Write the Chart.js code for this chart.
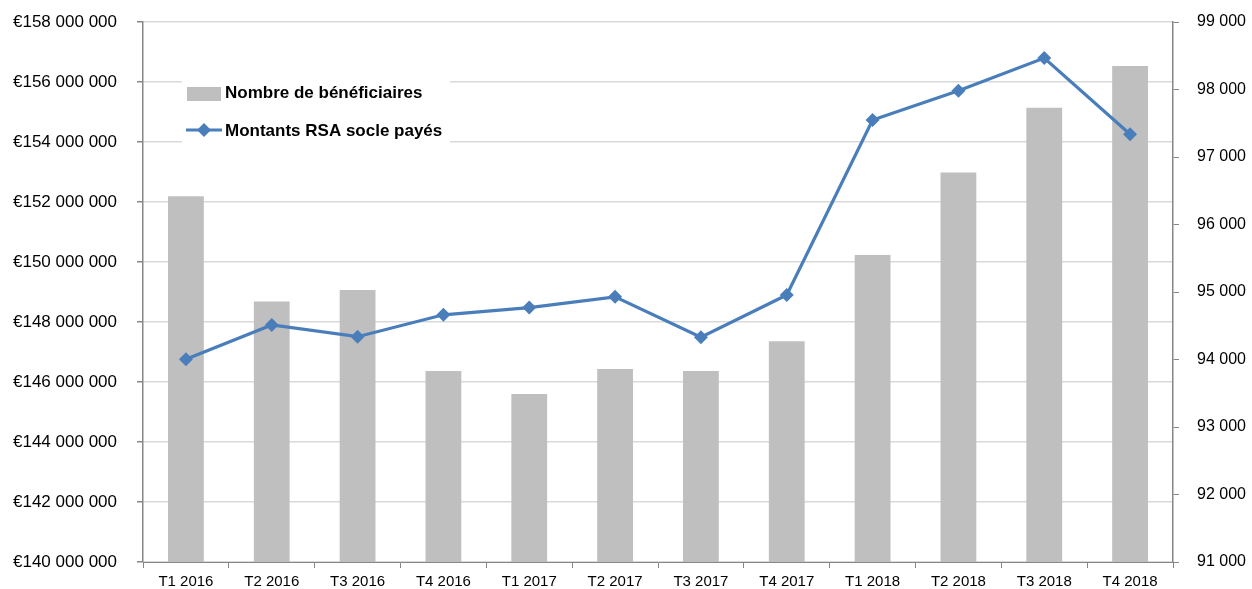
<!DOCTYPE html>
<html>
<head>
<meta charset="utf-8">
<script src="https://cdn.jsdelivr.net/npm/chart.js@4/dist/chart.umd.min.js"></script>
<style>
  body { margin: 0; background: #fff; }
  .content { width: 1252px; height: 589px; position: relative; }
</style>
</head>
<body>
<div class="content"><canvas id="chart"></canvas></div>
<script>
const labels = ['T1 2016', 'T2 2016', 'T3 2016', 'T4 2016', 'T1 2017', 'T2 2017',
  'T3 2017', 'T4 2017', 'T1 2018', 'T2 2018', 'T3 2018', 'T4 2018'];

// Nombre de bénéficiaires (axe de droite)
const beneficiaires = [96420, 94860, 95030, 93830, 93490, 93860, 93830, 94270, 95550, 96770, 97730, 98350];

// Montants RSA socle payés (axe de gauche, en euros)
const montants = [146760000, 147900000, 147510000, 148240000, 148480000, 148840000,
  147490000, 148900000, 154730000, 155710000, 156800000, 154260000];

const leftRange = [140000000, 158000000, 2000000];
const rightRange = [91000, 99000, 1000];

const FONT = '"Liberation Sans", Arial, sans-serif';
const AXIS = '#868686';
const GRID = '#d9d9d9';
const BAR = '#bfbfbf';
const LINE = '#4a7ebb';

function spaced(n) {
  return String(Math.round(n)).replace(/\B(?=(\d{3})+(?!\d))/g, ' ');
}

// legend drawn inside the plot, like the original
const innerLegend = {
  id: 'innerLegend',
  afterDatasetsDraw(chart) {
    const ctx = chart.ctx;
    ctx.save();
    ctx.fillStyle = '#fff';
    ctx.fillRect(182, 74, 268, 76);

    ctx.font = 'bold 17px ' + FONT;
    ctx.textBaseline = 'middle';
    ctx.textAlign = 'left';

    const ds = chart.data.datasets;
    // bar entry
    ctx.fillStyle = ds[0].backgroundColor;
    ctx.fillRect(187, 87, 34, 14);
    ctx.fillStyle = '#000';
    ctx.fillText(ds[0].label, 225, 93);

    // line entry
    ctx.strokeStyle = ds[1].borderColor;
    ctx.lineWidth = 3;
    ctx.beginPath();
    ctx.moveTo(186, 130);
    ctx.lineTo(222, 130);
    ctx.stroke();
    ctx.fillStyle = ds[1].borderColor;
    ctx.beginPath();
    ctx.moveTo(204, 123);
    ctx.lineTo(211, 130);
    ctx.lineTo(204, 137);
    ctx.lineTo(197, 130);
    ctx.closePath();
    ctx.fill();
    ctx.fillStyle = '#000';
    ctx.fillText(ds[1].label, 225, 131);
    ctx.restore();
  }
};

// keep the plot area where the original has it
function noPad(scale) {
  scale.paddingTop = 0;
  scale.paddingBottom = 0;
  scale.paddingLeft = 0;
  scale.paddingRight = 0;
}

const ctx = document.getElementById('chart');
const chart = new Chart(ctx, {
  type: 'bar',
  data: {
    labels: labels,
    datasets: [{
      type: 'bar',
      label: 'Nombre de bénéficiaires',
      data: beneficiaires,
      yAxisID: 'y1',
      backgroundColor: BAR,
      barPercentage: 0.417,
      categoryPercentage: 1,
      order: 1
    }, {
      type: 'line',
      label: 'Montants RSA socle payés',
      data: montants,
      yAxisID: 'y',
      borderColor: LINE,
      backgroundColor: LINE,
      borderWidth: 3.2,
      pointStyle: 'rectRot',
      pointRadius: 7,
      pointBorderWidth: 0,
      pointBackgroundColor: LINE,
      tension: 0,
      order: 0
    }]
  },
  plugins: [innerLegend],
  options: {
    responsive: true,
    maintainAspectRatio: false,
    animation: false,
    layout: { padding: { top: 22, left: 0, right: 0, bottom: 0 } },
    plugins: {
      legend: { display: false },
      tooltip: { enabled: false }
    },
    scales: {
      x: {
        offset: true,
        grid: { drawOnChartArea: false, offset: true, tickLength: 6, color: AXIS },
        border: { color: AXIS, width: 1 },
        ticks: { color: '#000', font: { family: FONT, size: 15 }, padding: 5, maxRotation: 0, autoSkip: false },
        afterFit(scale) { scale.height = 27; noPad(scale); }
      },
      y: {
        position: 'left',
        min: leftRange[0],
        max: leftRange[1],
        grid: { color: GRID, tickColor: AXIS, tickLength: 6, lineWidth: 1.5 },
        border: { color: AXIS, width: 1.5 },
        ticks: {
          stepSize: leftRange[2],
          color: '#000',
          padding: 20,
          font: { family: FONT, size: 17 },
          callback: v => '€' + spaced(v)
        },
        afterFit(scale) { scale.width = 143; noPad(scale); }
      },
      y1: {
        position: 'right',
        min: rightRange[0],
        max: rightRange[1],
        grid: { drawOnChartArea: false, color: AXIS, tickLength: 6 },
        border: { color: AXIS, width: 1.5 },
        ticks: {
          stepSize: rightRange[2],
          color: '#000',
          padding: 18,
          font: { family: FONT, size: 16 },
          callback: v => spaced(v)
        },
        afterFit(scale) { scale.width = 79; noPad(scale); }
      }
    }
  }
});
</script>
</body>
</html>
